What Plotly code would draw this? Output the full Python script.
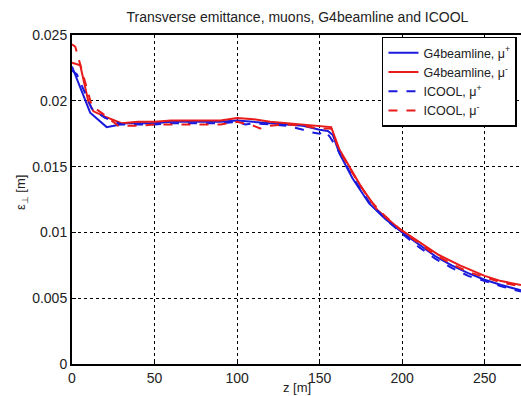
import plotly.graph_objects as go

# G4beamline mu+ (blue solid)
z_g4_plus = [0, 11, 21, 33, 40, 50, 60, 70, 80, 90, 100, 110, 120, 130, 140, 150, 155, 158, 162, 170, 180, 190, 200, 210, 220, 230, 240, 250, 260, 272]
e_g4_plus = [0.0226, 0.0191, 0.0180, 0.0183, 0.0183, 0.0183, 0.0184, 0.0184, 0.0184, 0.0184, 0.0185, 0.0184, 0.0183, 0.0182, 0.0181, 0.0178, 0.0177, 0.0174, 0.0160, 0.0141, 0.0122, 0.0110, 0.0100, 0.0091, 0.0082, 0.0075, 0.0069, 0.0064, 0.0060, 0.0056]

# G4beamline mu- (red solid)
z_g4_minus = [0, 5, 10, 13, 20, 30, 40, 50, 60, 70, 80, 90, 100, 110, 120, 130, 140, 150, 157, 162, 170, 175, 185, 198, 210, 222, 235, 250, 260, 272]
e_g4_minus = [0.0229, 0.0227, 0.0199, 0.0192, 0.0188, 0.0183, 0.0184, 0.0184, 0.0185, 0.0185, 0.0185, 0.0185, 0.0187, 0.0186, 0.0184, 0.0183, 0.0182, 0.0181, 0.0180, 0.0163, 0.0146, 0.0135, 0.0117, 0.0103, 0.0093, 0.0083, 0.0075, 0.0067, 0.0063, 0.0060]

# ICOOL mu+ (blue dashed)
z_ic_plus = [0, 3, 12, 20, 30, 40, 50, 60, 70, 80, 90, 100, 105, 110, 120, 130, 140, 145, 150, 153, 156, 160, 170, 180, 190, 200, 210, 220, 230, 240, 250, 260, 272]
e_ic_plus = [0.0223, 0.0220, 0.0194, 0.0187, 0.0182, 0.0182, 0.0182, 0.0183, 0.0183, 0.0183, 0.0183, 0.0184, 0.0182, 0.0183, 0.0182, 0.0181, 0.0178, 0.0176, 0.0175, 0.0177, 0.0173, 0.0165, 0.0142, 0.0123, 0.0110, 0.0099, 0.0089, 0.0080, 0.0073, 0.0067, 0.0063, 0.0059, 0.0055]

# ICOOL mu- (red dashed)
z_ic_minus = [0, 2, 12, 20, 28, 40, 50, 60, 70, 80, 90, 100, 110, 114, 120, 130, 140, 150, 157, 162, 170, 180, 190, 200, 210, 220, 230, 240, 250, 260, 272]
e_ic_minus = [0.0243, 0.0241, 0.0196, 0.0189, 0.0181, 0.0181, 0.0182, 0.0182, 0.0182, 0.0182, 0.0182, 0.0184, 0.0181, 0.0179, 0.0181, 0.0182, 0.0181, 0.0179, 0.0179, 0.0162, 0.0145, 0.0125, 0.0112, 0.0101, 0.0092, 0.0083, 0.0076, 0.0070, 0.0066, 0.0062, 0.0059]

x_ticks = [0, 50, 100, 150, 200, 250]
x_ticklabels = ["0", "50", "100", "150", "200", "250"]
y_ticks = [0, 0.005, 0.01, 0.015, 0.02, 0.025]
y_ticklabels = ["0", "0.005", "0.01", "0.015", "0.02", "0.025"]

BLUE = "#1a1adc"
RED = "#e81a1a"
TXT = "#222"

fig = go.Figure()
fig.add_trace(go.Scatter(x=z_g4_plus, y=e_g4_plus, mode="lines", name="G4beamline, μ<sup>+</sup>",
                         line=dict(color=BLUE, width=2)))
fig.add_trace(go.Scatter(x=z_g4_minus, y=e_g4_minus, mode="lines", name="G4beamline, μ<sup>-</sup>",
                         line=dict(color=RED, width=2)))
fig.add_trace(go.Scatter(x=z_ic_plus, y=e_ic_plus, mode="lines", name="ICOOL, μ<sup>+</sup>",
                         line=dict(color=BLUE, width=2, dash="dash")))
fig.add_trace(go.Scatter(x=z_ic_minus, y=e_ic_minus, mode="lines", name="ICOOL, μ<sup>-</sup>",
                         line=dict(color=RED, width=2, dash="dash")))

fig.update_layout(
    width=521, height=396,
    margin=dict(l=72, r=0, t=35, b=32),
    paper_bgcolor="white", plot_bgcolor="white",
    font=dict(family="Liberation Sans, Arial, sans-serif", size=14, color=TXT),
    title=dict(text="Transverse emittance, muons, G4beamline and ICOOL", x=0.571, xanchor="center",
               xref="container", yref="container", y=0.957, yanchor="middle",
               font=dict(size=14, color=TXT)),
    showlegend=True,
    legend=dict(x=0.991, y=0.995, xanchor="right", yanchor="top", bgcolor="white",
                bordercolor="black", borderwidth=1.5, font=dict(size=12.5, color=TXT),
                tracegroupgap=0, itemwidth=30),
    xaxis=dict(range=[0, 272], tickvals=x_ticks, ticktext=x_ticklabels,
               showline=True, linecolor="black", linewidth=2, mirror=True,
               showgrid=True, gridcolor="black", griddash="dot", gridwidth=1,
               ticks="inside", ticklen=4, tickcolor="black", zeroline=False,
               tickfont=dict(size=14), automargin=False),
    yaxis=dict(range=[0, 0.025], tickvals=y_ticks, ticktext=y_ticklabels,
               showline=True, linecolor="black", linewidth=2,
               showgrid=True, gridcolor="black", griddash="dot", gridwidth=1,
               ticks="inside", ticklen=4, tickcolor="black", zeroline=False,
               tickfont=dict(size=14), automargin=False),
    annotations=[
        dict(text="z [m]", xref="paper", yref="paper", x=0.5, y=-0.07, xanchor="center",
             yanchor="middle", showarrow=False, font=dict(size=13, color=TXT)),
        dict(text="ε<sub>⊥</sub> [m]", xref="paper", yref="paper", x=-0.111, y=0.52,
             xanchor="center", yanchor="middle", textangle=-90, showarrow=False,
             font=dict(size=13, color=TXT)),
    ],
)

fig.write_html("out.html", config={"displayModeBar": False},
               post_script="document.body.style.margin='0';document.body.style.overflow='hidden';")
